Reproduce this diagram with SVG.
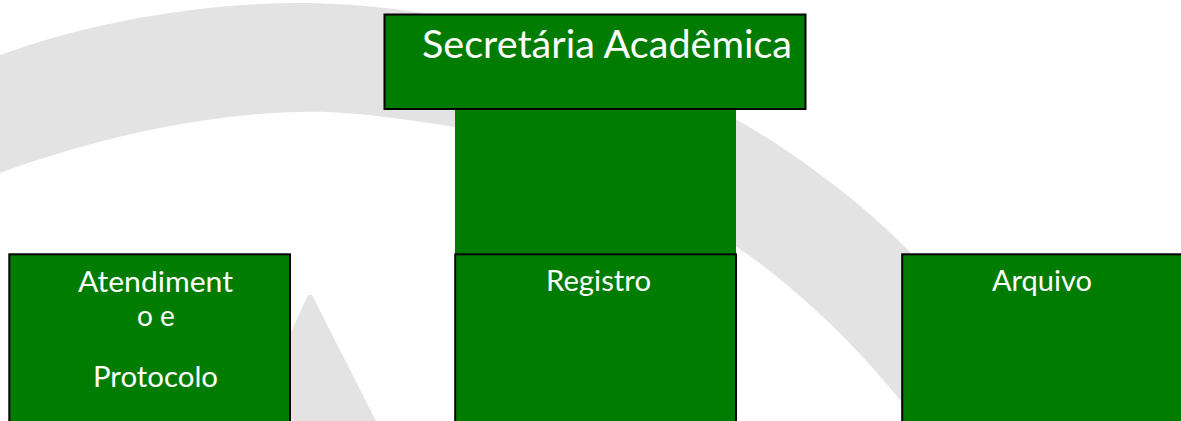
<svg xmlns="http://www.w3.org/2000/svg" width="1181" height="421" viewBox="0 0 1181 421">
  <style>
    .bg { fill: #e3e3e3; }
    .box { fill: #007c00; stroke: #000000; stroke-width: 2; }
    .bar { fill: #007c00; }
    .lbl { font-family: Lato, "Open Sans", "Liberation Sans", sans-serif; fill: #ffffff; text-anchor: middle; }
    .t1 { font-size: 38px; }
    .t2 { font-size: 28px; }
  </style>
  <rect x="0" y="0" width="1181" height="421" fill="#ffffff"/>
  <g id="background">
    <path class="bg" d="M 0 55 C 90 22, 200 3, 300 3 C 420 3, 620 40, 737 120 C 800 155, 870 210, 910 252 C 960 300, 1020 370, 1060 421 L 918 421 L 900 400 C 860 350, 800 290, 737 247 C 650 190, 540 140, 455 127 C 400 118, 340 110, 300 112 C 200 114, 90 140, 0 173 Z"/>
    <path class="bg" d="M 307 297 Q 310 292, 313 297 L 376 421 L 280 421 L 285 345 Z"/>
  </g>
  <g id="connectors">
    <rect class="bar" x="455" y="108" width="281" height="148"/>
  </g>
  <g id="node-secretaria">
    <rect class="box" x="384.5" y="14.5" width="421" height="94.5"/>
    <text class="lbl t1" x="607" y="58" textLength="370" lengthAdjust="spacingAndGlyphs">Secretária Acadêmica</text>
  </g>
  <g id="node-atendimento">
    <rect class="box" x="9.3" y="254.3" width="280.7" height="180"/>
    <text class="lbl t2" x="155.5" y="292" textLength="155" lengthAdjust="spacingAndGlyphs">Atendiment</text>
    <text class="lbl t2" x="156" y="326">o e</text>
    <text class="lbl t2" x="155.5" y="387" textLength="125" lengthAdjust="spacingAndGlyphs">Protocolo</text>
  </g>
  <g id="node-registro">
    <rect class="box" x="455.2" y="254.3" width="280.8" height="180"/>
    <text class="lbl t2" x="598.5" y="291" textLength="105" lengthAdjust="spacingAndGlyphs">Registro</text>
  </g>
  <g id="node-arquivo">
    <rect class="box" x="902.2" y="254.3" width="290" height="180"/>
    <text class="lbl t2" x="1042" y="291" textLength="100" lengthAdjust="spacingAndGlyphs">Arquivo</text>
  </g>
</svg>
